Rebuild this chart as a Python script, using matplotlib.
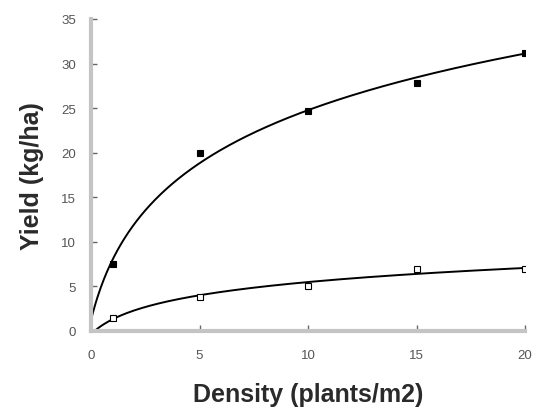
import numpy as np
import matplotlib
matplotlib.use("Agg")
import matplotlib.pyplot as plt

plt.rcParams['font.family'] = ['Liberation Sans', 'DejaVu Sans']

density = [1, 5, 10, 15, 20]
yield_filled = [7.5, 20.0, 24.7, 27.8, 31.2]
yield_open = [1.5, 3.8, 5.0, 7.0, 7.0]
xticks = [0, 5, 10, 15, 20]
yticks = [0, 5, 10, 15, 20, 25, 30, 35]

fig = plt.figure(figsize=(5.37, 4.10), dpi=100)
ax = fig.add_axes([91/537, 78/410, 434/537, 312/410])

xs = np.linspace(0, 20, 400)
for ys, fc, ms in [(yield_filled, 'black', 5), (yield_open, 'white', 4.5)]:
    # logarithmic fit y = a + b*ln(1+x)
    b, a = np.polyfit(np.log1p(density), ys, 1)
    ax.plot(xs, a + b * np.log1p(xs), color='black', lw=1.4, zorder=2)
    ax.plot(density, ys, linestyle='none', marker='s', ms=ms,
            mfc=fc, mec='black', mew=0.8, zorder=3)

ax.set_xlim(0, 20)
ax.set_ylim(0, 35)
ax.set_xticks(xticks)
ax.set_yticks(yticks)
for s in ['top', 'right']:
    ax.spines[s].set_visible(False)
for s in ['left', 'bottom']:
    ax.spines[s].set_color('#c4c4c4')
    ax.spines[s].set_linewidth(3)
ax.tick_params(direction='in', length=4, width=1, color='#666666',
               labelsize=9.5, labelcolor='#555555')
ax.tick_params(axis='x', pad=13)
ax.tick_params(axis='y', pad=11)
ax.set_xlabel('Density (plants/m2)', fontsize=18, fontweight='bold',
              labelpad=15, color='#2a2a2a')
ax.set_ylabel('Yield (kg/ha)', fontsize=18, fontweight='bold',
              labelpad=12, color='#2a2a2a')

fig.savefig('out.png', dpi=100)
